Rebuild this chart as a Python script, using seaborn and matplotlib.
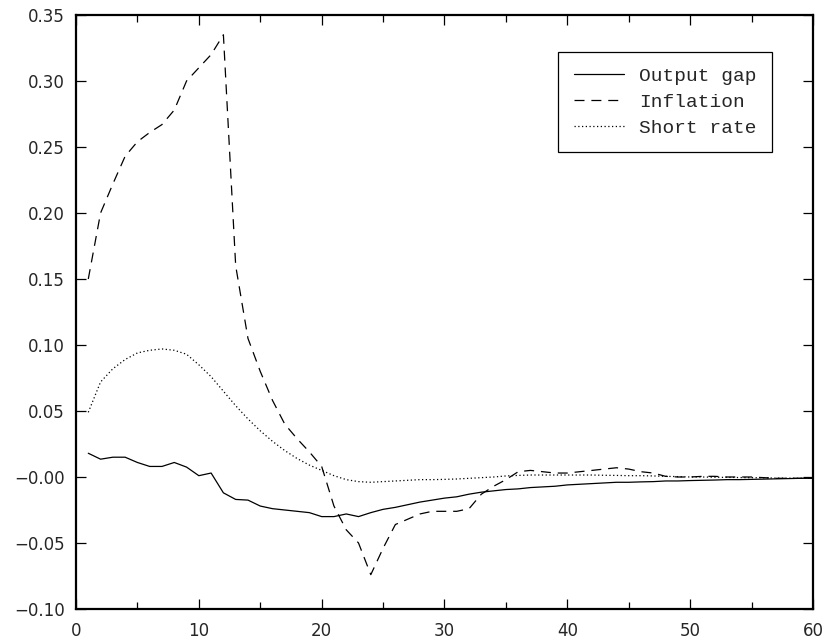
import numpy as np
import pandas as pd
import matplotlib
matplotlib.use("Agg")
import matplotlib.pyplot as plt
from matplotlib.ticker import MultipleLocator, FixedLocator, FixedFormatter
import seaborn as sns

# horizon (periods after the shock)
periods = list(range(1, 61))

output_gap = [0.018, 0.0135, 0.015, 0.015, 0.011, 0.008, 0.008, 0.011, 0.0075, 0.001,
              0.003, -0.012, -0.017, -0.0175, -0.022, -0.024, -0.025, -0.026, -0.027, -0.030,
              -0.030, -0.028, -0.030, -0.027, -0.0245, -0.023, -0.021, -0.019, -0.0175, -0.016,
              -0.015, -0.013, -0.0115, -0.0105, -0.0095, -0.009, -0.008, -0.0075, -0.007, -0.006,
              -0.0055, -0.005, -0.0045, -0.004, -0.004, -0.0037, -0.0035, -0.003, -0.003, -0.0027,
              -0.0025, -0.0023, -0.002, -0.002, -0.0018, -0.0016, -0.0014, -0.0012, -0.001, -0.001]

inflation = [0.150, 0.200, 0.222, 0.243, 0.254, 0.261, 0.267, 0.278, 0.300, 0.310,
             0.320, 0.335, 0.160, 0.105, 0.080, 0.058, 0.040, 0.029, 0.019, 0.008,
             -0.022, -0.040, -0.050, -0.074, -0.054, -0.036, -0.032, -0.028, -0.026, -0.026,
             -0.026, -0.024, -0.013, -0.007, -0.002, 0.004, 0.005, 0.004, 0.003, 0.003,
             0.004, 0.005, 0.006, 0.007, 0.006, 0.004, 0.003, 0.0005, 0.0, 0.0,
             0.0005, 0.0005, 0.0, 0.0, 0.0, -0.0005, -0.001, -0.001, -0.001, -0.001]

short_rate = [0.049, 0.072, 0.082, 0.089, 0.094, 0.096, 0.097, 0.096, 0.093, 0.085,
              0.076, 0.065, 0.054, 0.044, 0.035, 0.027, 0.020, 0.014, 0.009, 0.005,
              0.001, -0.002, -0.0035, -0.004, -0.0035, -0.003, -0.0025, -0.002, -0.002, -0.0018,
              -0.0015, -0.001, -0.0005, 0.0, 0.0008, 0.0012, 0.0015, 0.0015, 0.0015, 0.0015,
              0.0015, 0.0015, 0.0013, 0.0012, 0.001, 0.001, 0.0008, 0.0005, 0.0003, 0.0,
              0.0, -0.0002, -0.0003, -0.0004, -0.0005, -0.0006, -0.0008, -0.0009, -0.001, -0.001]

series_names = ["Output gap", "Inflation", "Short rate"]
y_ticks = [-0.10, -0.05, 0.0, 0.05, 0.10, 0.15, 0.20, 0.25, 0.30, 0.35]
y_labels = ["\u22120.10", "\u22120.05", "\u22120.00", "0.05", "0.10", "0.15", "0.20", "0.25", "0.30", "0.35"]
x_ticks = [0, 10, 20, 30, 40, 50, 60]

df = pd.concat([
    pd.DataFrame({"t": periods, "value": output_gap, "series": series_names[0]}),
    pd.DataFrame({"t": periods, "value": inflation, "series": series_names[1]}),
    pd.DataFrame({"t": periods, "value": short_rate, "series": series_names[2]}),
])

sns.set_style("ticks")
plt.rcParams["font.family"] = ["DejaVu Sans"]

fig = plt.figure(figsize=(8.28, 6.41), dpi=100)
ax = fig.add_axes([76 / 828, 1 - 609 / 641, (813 - 76) / 828, (609 - 15) / 641])

sns.lineplot(data=df, x="t", y="value", style="series", color="black", linewidth=0.9,
             style_order=series_names,
             dashes={"Output gap": "", "Inflation": (8, 5.5), "Short rate": (1, 2)},
             ax=ax)

ax.set_xlim(0, 60)
ax.set_ylim(-0.10, 0.35)
ax.set_xlabel("")
ax.set_ylabel("")

ax.xaxis.set_major_locator(FixedLocator(x_ticks))
ax.xaxis.set_minor_locator(MultipleLocator(5))
ax.yaxis.set_major_locator(FixedLocator(y_ticks))
ax.yaxis.set_major_formatter(FixedFormatter(y_labels))
ax.tick_params(which="both", direction="in", top=True, right=True, labelsize=12, color="black")
ax.tick_params(which="major", length=7, width=0.9)
ax.tick_params(which="minor", length=5, width=0.9)
ax.tick_params(axis="y", pad=8)
ax.tick_params(axis="x", pad=9)

for sp in ax.spines.values():
    sp.set_linewidth(1.6)
    sp.set_color("black")
    sp.set_visible(True)

handles, labels = ax.get_legend_handles_labels()
leg = ax.legend(handles, labels, loc="upper right", bbox_to_anchor=(0.944, 0.938),
                frameon=True, fancybox=False, edgecolor="black", framealpha=1,
                prop={"family": "Liberation Mono", "size": 14},
                handlelength=2.6, handletextpad=0.75, labelspacing=0.42,
                borderpad=0.8, borderaxespad=0)
leg.get_frame().set_linewidth(0.9)

fig.savefig("out.png", dpi=100)
